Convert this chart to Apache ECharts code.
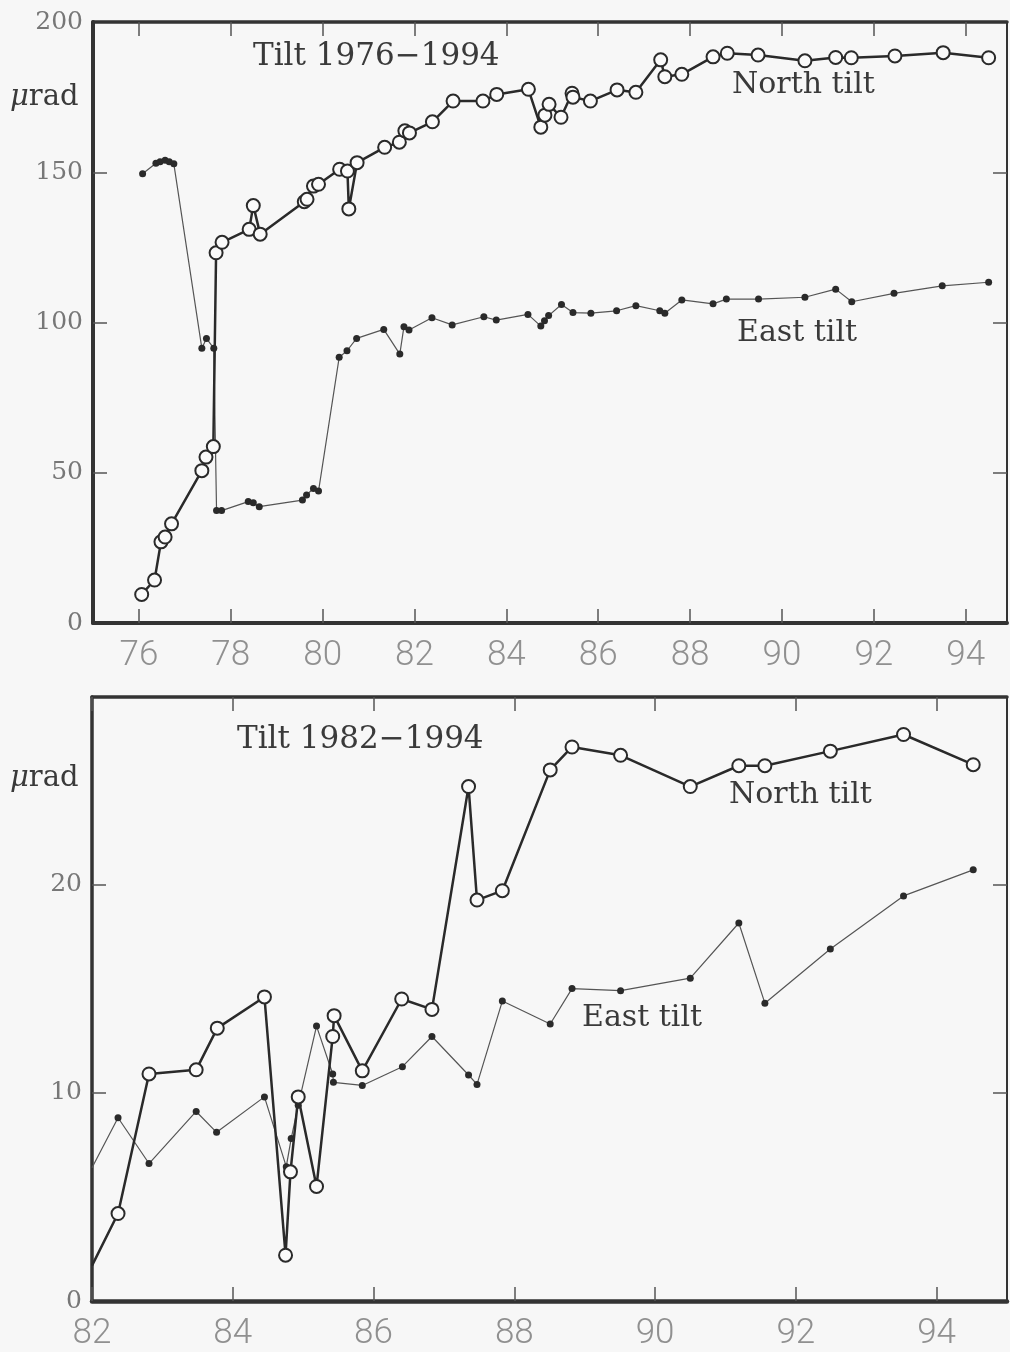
<!DOCTYPE html>
<html>
<head>
<meta charset="utf-8">
<script src="https://cdn.jsdelivr.net/npm/echarts@6/dist/echarts.min.js"></script>
<style>
  html, body { margin: 0; padding: 0; background: #f7f7f7; }
  #tilt-chart { width: 1010px; height: 1352px; }
</style>
</head>
<body>
<div id="tilt-chart"></div>
<script>
// 1976-1994 panel
const northYears76 = [76.06, 76.34, 76.48, 76.57, 76.71, 77.37, 77.46, 77.62, 77.68, 77.81,
  78.40, 78.49, 78.64, 79.60, 79.66, 79.80, 79.91, 80.37, 80.54, 80.57, 80.75, 81.35, 81.67,
  81.79, 81.89, 82.39, 82.84, 83.49, 83.79, 84.48, 84.75, 84.84, 84.93, 85.19, 85.43, 85.45,
  85.83, 86.41, 86.82, 87.36, 87.45, 87.82, 88.50, 88.81, 89.48, 90.50, 91.17, 91.51, 92.46,
  93.51, 94.50];
const northTilt76 = [9.5, 14.3, 27, 28.6, 33, 50.7, 55.2, 58.7, 123.2, 126.7,
  131, 138.9, 129.4, 140.2, 141, 145.4, 146, 151, 150.4, 137.8, 153.2, 158.3, 160,
  163.8, 163.1, 166.8, 173.7, 173.7, 175.9, 177.6, 165, 169, 172.6, 168.3, 176.3, 175,
  173.7, 177.4, 176.6, 187.4, 181.8, 182.6, 188.4, 189.6, 189, 187.1, 188.2, 188.1, 188.7,
  189.8, 188.1];
const eastYears76 = [76.08, 76.37, 76.46, 76.57, 76.66, 76.76, 77.37, 77.47, 77.63, 77.69,
  77.80, 78.38, 78.49, 78.62, 79.56, 79.65, 79.80, 79.91, 80.36, 80.53, 80.74, 81.33, 81.68,
  81.77, 81.88, 82.38, 82.82, 83.51, 83.78, 84.47, 84.75, 84.83, 84.92, 85.20, 85.45, 85.84,
  86.40, 86.82, 87.34, 87.45, 87.82, 88.50, 88.79, 89.49, 90.50, 91.17, 91.52, 92.44, 93.49,
  94.50];
const eastTilt76 = [149.5, 153, 153.5, 154, 153.5, 152.8, 91.4, 94.7, 91.4, 37.4,
  37.4, 40.4, 40, 38.7, 40.9, 42.6, 44.8, 43.9, 88.4, 90.6, 94.7, 97.7, 89.5,
  98.6, 97.5, 101.6, 99.2, 101.9, 100.8, 102.7, 98.8, 100.6, 102.3, 106, 103.3, 103.1,
  103.9, 105.6, 103.9, 103.1, 107.5, 106.2, 107.8, 107.8, 108.4, 111.1, 106.9, 109.7, 112.2,
  113.4];

// 1982-1994 panel (first value of each series sits on the left frame)
const northYears82 = [82.0, 82.37, 82.81, 83.48, 83.78, 84.45, 84.75, 84.82, 84.93, 85.19,
  85.42, 85.44, 85.84, 86.40, 86.83, 87.35, 87.47, 87.83, 88.51, 88.82, 89.51, 90.50, 91.19,
  91.56, 92.49, 93.53, 94.52];
const northTilt82 = [1.7, 4.2, 10.9, 11.1, 13.1, 14.6, 2.2, 6.2, 9.8, 5.5,
  12.7, 13.7, 11.05, 14.5, 14.0, 24.7, 19.25, 19.7, 25.5, 26.6, 26.2, 24.7, 25.7,
  25.7, 26.4, 27.2, 25.75];
const eastYears82 = [82.0, 82.37, 82.81, 83.48, 83.77, 84.45, 84.76, 84.83, 84.93, 85.19,
  85.42, 85.43, 85.84, 86.41, 86.83, 87.35, 87.47, 87.83, 88.51, 88.82, 89.51, 90.50, 91.19,
  91.56, 92.49, 93.53, 94.52];
const eastTilt82 = [6.4, 8.8, 6.6, 9.1, 8.1, 9.8, 6.45, 7.8, 9.4, 13.2,
  10.9, 10.5, 10.35, 11.25, 12.7, 10.85, 10.4, 14.4, 13.3, 15.0, 14.9, 15.5, 18.15,
  14.3, 16.9, 19.45, 20.7];

const xTicks76 = [76, 78, 80, 82, 84, 86, 88, 90, 92, 94];
const xTicks82 = [82, 84, 86, 88, 90, 92, 94];
const yTicks76 = [0, 50, 100, 150, 200];
const yTicks82 = [0, 10, 20];

// points lying on the frame are drawn without a marker
const zip = (xs, ys, xmin) => xs.map((x, i) =>
  x <= xmin ? { value: [x, ys[i]], symbol: 'none' } : [x, ys[i]]);

const ink = '#333';
const serif = 'DejaVu Serif';

const xAxisBase = (grid, min, max, ticks, pos, lineW, labels) => ({
  type: 'value',
  gridIndex: grid,
  position: pos,
  min: min,
  max: max,
  splitLine: { show: false },
  axisLine: { show: true, onZero: false, lineStyle: { color: ink, width: lineW } },
  axisTick: {
    show: true, inside: true, length: 14,
    customValues: ticks,
    lineStyle: { color: '#555', width: 1.5 }
  },
  axisLabel: labels ? {
    show: true,
    customValues: ticks,
    color: '#909090',
    fontFamily: 'Roboto',
    fontWeight: 300,
    fontSize: 35,
    margin: 16
  } : { show: false }
});

const yAxisBase = (grid, max, ticks, pos, lineW, labels) => ({
  type: 'value',
  gridIndex: grid,
  position: pos,
  min: 0,
  max: max,
  splitLine: { show: false },
  axisLine: { show: true, onZero: false, lineStyle: { color: ink, width: lineW } },
  axisTick: {
    show: true, inside: true, length: 14,
    customValues: ticks.filter(v => v > 0 && v < max),
    lineStyle: { color: '#555', width: 1.5 }
  },
  axisLabel: labels ? {
    show: true,
    customValues: ticks,
    color: '#777',
    fontFamily: serif,
    fontSize: 25,
    margin: 10
  } : { show: false }
});

const northSeries = (xi, yi, data) => ({
  type: 'line',
  xAxisIndex: xi,
  yAxisIndex: yi,
  data: data,
  z: 3,
  symbol: 'circle',
  symbolSize: 13,
  showAllSymbol: true,
  lineStyle: { color: '#2a2a2a', width: 2.5 },
  itemStyle: { color: '#fafafa', borderColor: '#2a2a2a', borderWidth: 2 }
});

const eastSeries = (xi, yi, data) => ({
  type: 'line',
  xAxisIndex: xi,
  yAxisIndex: yi,
  data: data,
  z: 2,
  symbol: 'circle',
  symbolSize: 7,
  showAllSymbol: true,
  lineStyle: { color: '#555', width: 1.2 },
  itemStyle: { color: '#2a2a2a' }
});

const label = (text, x, y, size) => ({
  type: 'text',
  x: x,
  y: y,
  style: {
    text: text,
    fill: '#3a3a3a',
    font: size + 'px "' + serif + '"',
    verticalAlign: 'middle',
    align: 'left'
  }
});

const murad = (x, y) => ({
  type: 'text',
  x: x,
  y: y,
  style: {
    text: '{m|μ}{r|rad}',
    verticalAlign: 'middle',
    align: 'left',
    rich: {
      m: { fontFamily: serif, fontStyle: 'italic', fontSize: 29, fill: '#3a3a3a' },
      r: { fontFamily: serif, fontSize: 29, fill: '#3a3a3a' }
    }
  }
});

const options = {
  backgroundColor: '#f7f7f7',
  animation: false,
  grid: [
    { left: 93, top: 22, width: 914, height: 601 },
    { left: 92, top: 697, width: 915, height: 605 }
  ],
  xAxis: [
    xAxisBase(0, 75, 94.9, xTicks76, 'bottom', 4, true),
    xAxisBase(0, 75, 94.9, xTicks76, 'top', 3.5, false),
    xAxisBase(1, 82, 95, xTicks82, 'bottom', 4.5, true),
    xAxisBase(1, 82, 95, xTicks82, 'top', 3.5, false)
  ],
  yAxis: [
    yAxisBase(0, 200, yTicks76, 'left', 4, true),
    yAxisBase(0, 200, yTicks76, 'right', 2, false),
    yAxisBase(1, 29, yTicks82, 'left', 3.5, true),
    yAxisBase(1, 29, yTicks82, 'right', 2, false)
  ],
  series: [
    eastSeries(0, 0, zip(eastYears76, eastTilt76, 75)),
    northSeries(0, 0, zip(northYears76, northTilt76, 75)),
    eastSeries(2, 2, zip(eastYears82, eastTilt82, 82)),
    northSeries(2, 2, zip(northYears82, northTilt82, 82))
  ],
  graphic: [
    label('Tilt 1976−1994', 253, 57, 31),
    label('North tilt', 732, 85, 30),
    label('East tilt', 737, 333, 30),
    murad(10, 97),
    label('Tilt 1982−1994', 237, 740, 31),
    label('North tilt', 729, 795, 30),
    label('East tilt', 582, 1018, 30),
    murad(10, 778)
  ]
};

const chart = echarts.init(document.getElementById('tilt-chart'));
chart.setOption(options);
window.addEventListener('resize', () => chart.resize(), false);
</script>
</body>
</html>
